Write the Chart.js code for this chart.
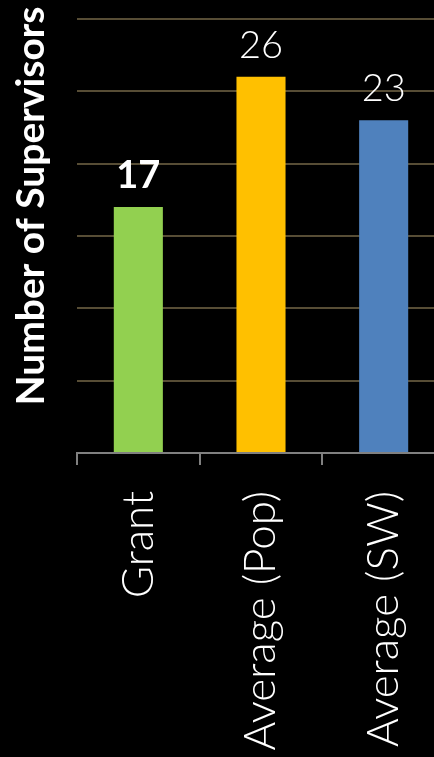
<!DOCTYPE html>
<html>
<head>
<meta charset="utf-8">
<script src="https://cdn.jsdelivr.net/npm/chart.js@4"></script>
<style>
  html, body { margin: 0; padding: 0; background: #000; overflow: hidden; }
  #wrap { width: 446px; height: 757px; position: relative; }
</style>
</head>
<body>
<div id="wrap"><canvas id="supervisorsChart"></canvas></div>
<script>
const categories = ['Grant', 'Average (Pop)', 'Average (SW)'];
const supervisors = [17, 26, 23];
const barColors = ['#92d050', '#ffc000', '#4f81bd'];
const yTitle = 'Number of Supervisors';

// value labels above bars, first one bold
const valueLabels = {
    id: 'valueLabels',
    afterDatasetsDraw(chart) {
        const ctx = chart.ctx;
        const meta = chart.getDatasetMeta(0);
        ctx.save();
        ctx.fillStyle = '#ffffff';
        ctx.textAlign = 'center';
        ctx.textBaseline = 'alphabetic';
        meta.data.forEach((bar, i) => {
            ctx.font = (i === 0 ? 'bold ' : '300 ') + '38px Lato';
            ctx.fillText(String(supervisors[i]), bar.x, bar.y - 19);
        });
        ctx.restore();
    }
};

// y axis title, drawn off-centre like the original
const sideTitle = {
    id: 'sideTitle',
    afterDraw(chart) {
        const ctx = chart.ctx;
        ctx.save();
        ctx.translate(31, 206);
        ctx.rotate(-Math.PI / 2);
        ctx.fillStyle = '#ffffff';
        ctx.font = 'bold 39px Lato';
        ctx.textAlign = 'center';
        ctx.textBaseline = 'middle';
        ctx.fillText(yTitle, 0, 0);
        ctx.restore();
    }
};

const ctx = document.getElementById('supervisorsChart').getContext('2d');
new Chart(ctx, {
    type: 'bar',
    data: {
        labels: categories,
        datasets: [{
            data: supervisors,
            backgroundColor: barColors,
            barPercentage: 0.4,
            categoryPercentage: 1
        }]
    },
    options: {
        responsive: true,
        maintainAspectRatio: false,
        animation: false,
        layout: { padding: { top: 19, right: 1, left: 0, bottom: 0 } },
        plugins: {
            legend: { display: false },
            tooltip: { enabled: false }
        },
        scales: {
            x: {
                grid: {
                    display: true,
                    drawOnChartArea: false,
                    drawTicks: true,
                    tickLength: 12,
                    color: '#808080',
                    lineWidth: 2
                },
                border: { display: true, color: '#808080', width: 2 },
                ticks: {
                    color: '#ffffff',
                    font: { family: 'Lato', size: 44, weight: '300' },
                    minRotation: 90,
                    maxRotation: 90,
                    padding: 26
                },
                afterFit(scale) {
                    scale.height = 304;
                    scale.paddingLeft = 0;
                    scale.paddingRight = 0;
                }
            },
            y: {
                min: 0,
                max: 30,
                ticks: { stepSize: 5, display: false },
                grid: { color: '#574d35', lineWidth: 2, drawTicks: false },
                border: { display: false },
                afterFit(scale) { scale.width = 77; }
            }
        }
    },
    plugins: [valueLabels, sideTitle]
});
</script>
</body>
</html>
